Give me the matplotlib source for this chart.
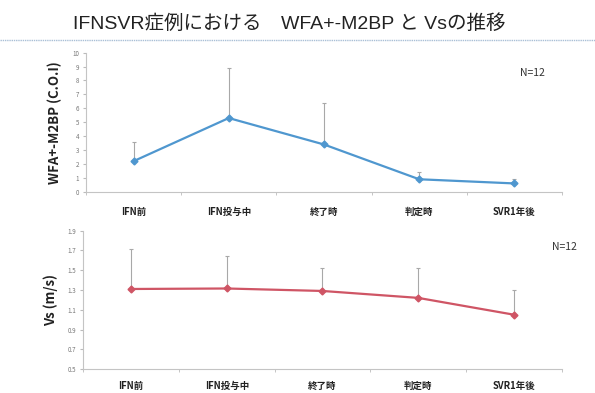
import matplotlib.pyplot as plt
import numpy as np

plt.rcParams['font.family'] = ['Noto Sans CJK JP', 'DejaVu Sans']

# data
categories = ['IFN前', 'IFN投与中', '終了時', '判定時', 'SVR1年後']
wfa_mean = [2.2, 5.3, 3.4, 0.9, 0.6]
wfa_upper = [3.6, 8.9, 6.4, 1.45, 0.95]
vs_mean = [1.31, 1.315, 1.29, 1.22, 1.05]
vs_upper = [1.71, 1.64, 1.52, 1.525, 1.30]

title = 'IFNSVR症例における　WFA+-M2BP と Vsの推移'

fig = plt.figure(figsize=(5.95, 3.93), dpi=100)
fig.patch.set_facecolor('white')

fig.text(0.486, 0.941, title, ha='center', va='center', fontsize=14, color='#222222',
         family=['Liberation Sans', 'Noto Sans CJK JP'])
fig.add_artist(plt.Line2D([0.0, 1.0], [0.898, 0.898], transform=fig.transFigure,
                          color='#a9bfd6', lw=1.0, linestyle=(0, (1, 0.6))))


def draw_panel(ax, mean, upper, color, ylim, yticks, ylabel, fmt, pad):
    x = np.arange(len(categories))
    err = np.array(upper) - np.array(mean)
    ax.errorbar(x, mean, yerr=[np.zeros(len(mean)), err], fmt='none',
                ecolor='#a8a8a8', elinewidth=0.8, capsize=1.5, capthick=0.8, zorder=1)
    ax.plot(x, mean, color=color, lw=1.6, marker='D', markersize=3.5, zorder=2)
    ax.set_xlim(-0.5, len(categories) - 0.5)
    ax.set_ylim(*ylim)
    ax.set_yticks(yticks)
    ax.set_yticklabels([fmt.format(v) for v in yticks], fontsize=4.5, color='#777777')
    ax.set_xticks(x)
    ax.set_xticklabels(categories, fontsize=6.8, fontweight='bold', color='#222222')
    ax.set_xticks(np.arange(len(categories) + 1) - 0.5, minor=True)
    ax.tick_params(axis='x', which='major', length=0, pad=pad)
    ax.tick_params(axis='x', which='minor', length=2.5, color='#bbbbbb')
    ax.tick_params(axis='y', length=2, color='#bbbbbb', pad=3)
    for s in ['top', 'right']:
        ax.spines[s].set_visible(False)
    for s in ['left', 'bottom']:
        ax.spines[s].set_color('#c4c4c4')
        ax.spines[s].set_linewidth(0.8)
    ax.set_ylabel(ylabel, fontsize=9.5, fontweight='bold', color='#222222', labelpad=7)
    return ax.text(0.94, 0.85, 'N=12', transform=ax.transAxes, fontsize=7.5,
                   color='#333333', ha='center', va='center')


ax1 = fig.add_axes([0.1445, 0.512, 0.80, 0.354])
n1 = draw_panel(ax1, wfa_mean, wfa_upper, '#4f97cf', (0, 10), list(range(0, 11)),
                'WFA+-M2BP (C.O.I)', '{:d}', 11)
n1.set_position((0.938, 0.855))

ax2 = fig.add_axes([0.140, 0.061, 0.804, 0.352])
n2 = draw_panel(ax2, vs_mean, vs_upper, '#cf5565', (0.5, 1.9),
                [0.5, 0.7, 0.9, 1.1, 1.3, 1.5, 1.7, 1.9], 'Vs (m/s)', '{:.1f}', 8.5)
n2.set_position((1.005, 0.88))

fig.savefig('out.png', dpi=100, facecolor='white')
